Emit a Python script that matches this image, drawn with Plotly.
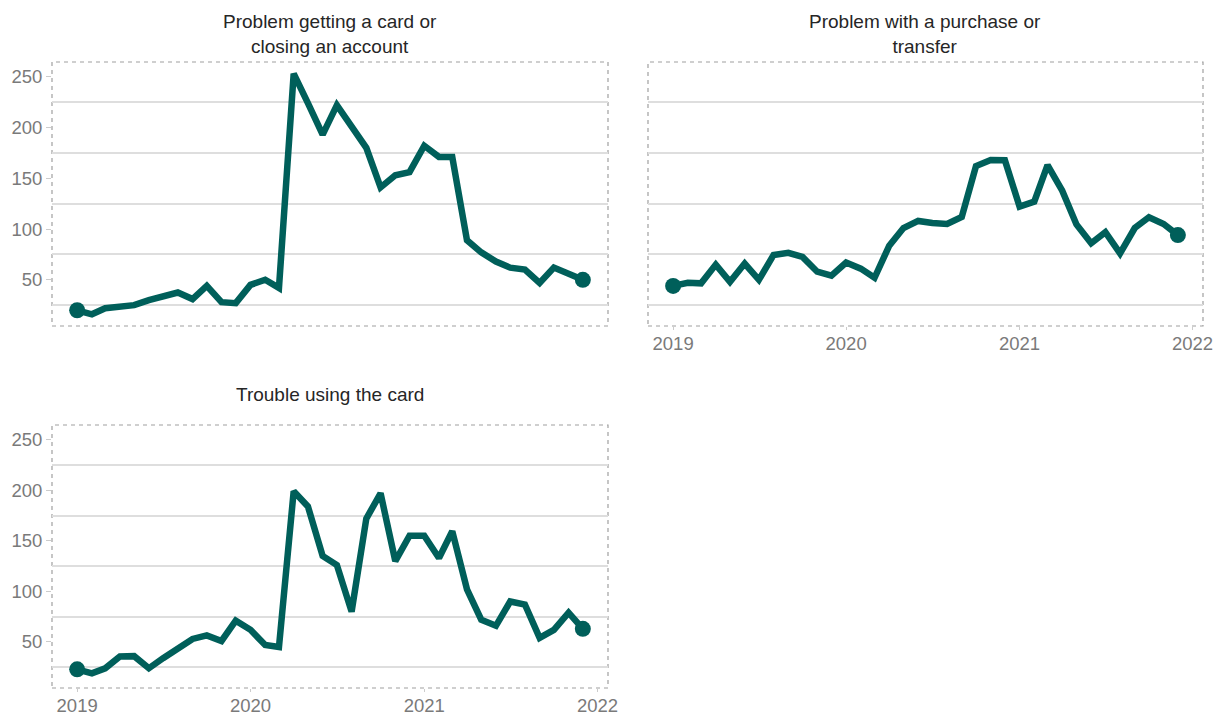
import plotly.graph_objects as go
import pandas as pd

dates = pd.date_range("2019-01-01", "2021-12-01", freq="MS")

titles = [
    "Problem getting a card or<br>closing an account",
    "Problem with a purchase or<br>transfer",
    "Trouble using the card",
]

getting_card = [20, 16, 22, 24, 25, 30, 33, 37.5, 31, 44, 28, 27,
                45, 50, 42, 253, 224, 193, 222, 201, 180, 141, 153, 156,
                182, 171, 171, 89, 77, 68, 62, 60, 47, 62, 56, 50]
purchase_transfer = [44, 47, 46.5, 65, 48, 66, 50, 74.5, 76.5, 72.5, 58, 54,
                     67, 61, 52, 83.6, 101, 108, 106, 105, 112, 162, 168, 167.7,
                     122, 127, 163, 137.7, 104.5, 86, 97, 76, 101, 111.6, 105, 94]
using_card = [23, 19, 24, 35.6, 36, 24, 34, 44, 53, 56.5, 51, 71,
              62, 47, 45, 199, 184, 135, 126, 80, 172, 197, 130, 155,
              155, 133, 159.5, 102, 72, 66, 90, 87, 54, 62, 79, 63]

series = [getting_card, purchase_transfer, using_card]

y_ticks = [50, 100, 150, 200, 250]
y_grid = [25, 75, 125, 175, 225]
x_tickvals = ["2019-01-01", "2020-01-01", "2021-01-01", "2022-01-01"]
x_ticktext = ["2019", "2020", "2021", "2022"]
x_range = ["2018-11-09", "2022-01-23"]
y_range = [4.5, 264.5]

LINE = "#005f5a"
GRAY = "#7a7a7a"
FONT = "Liberation Sans"

W, H = 1217, 715
panels = [
    dict(x0=52, x1=608, y0=62, y1=326, title_y=33.5, xlabels=False, ylabels=True),
    dict(x0=648, x1=1203, y0=62, y1=326, title_y=33.5, xlabels=True, ylabels=False),
    dict(x0=52, x1=608, y0=425, y1=688, title_y=395, xlabels=True, ylabels=True),
]

fig = go.Figure()
layout = dict(
    width=W, height=H,
    margin=dict(l=0, r=0, t=0, b=0),
    paper_bgcolor="white", plot_bgcolor="white",
    showlegend=False,
    font=dict(family=FONT, size=18, color=GRAY),
)
shapes = []
annotations = []

for i, (p, vals, title) in enumerate(zip(panels, series, titles)):
    n = i + 1
    xa = "x" if n == 1 else f"x{n}"
    ya = "y" if n == 1 else f"y{n}"
    fig.add_trace(go.Scatter(x=dates, y=vals, mode="lines",
                             line=dict(color=LINE, width=6.5),
                             xaxis=xa, yaxis=ya, hoverinfo="skip"))
    fig.add_trace(go.Scatter(x=[dates[0], dates[-1]], y=[vals[0], vals[-1]],
                             mode="markers",
                             marker=dict(color=LINE, size=16),
                             xaxis=xa, yaxis=ya, hoverinfo="skip"))
    xdom = [p["x0"] / W, p["x1"] / W]
    ydom = [1 - p["y1"] / H, 1 - p["y0"] / H]
    xkey = "xaxis" if n == 1 else f"xaxis{n}"
    ykey = "yaxis" if n == 1 else f"yaxis{n}"
    layout[xkey] = dict(
        domain=xdom, anchor=ya, type="date", range=x_range,
        tickmode="array", tickvals=x_tickvals, ticktext=x_ticktext,
        showticklabels=p["xlabels"],
        ticks="outside" if p["xlabels"] else "",
        ticklen=3, tickcolor="#cccccc", tickwidth=1,
        ticklabelstandoff=-2,
        showgrid=False, zeroline=False, showline=False,
        tickfont=dict(family=FONT, size=18.5, color=GRAY),
        automargin=False, fixedrange=True,
    )
    layout[ykey] = dict(
        domain=ydom, anchor=xa, range=y_range,
        tickmode="array", tickvals=y_ticks,
        showticklabels=p["ylabels"],
        ticks="outside" if p["ylabels"] else "",
        ticklen=5, tickcolor="#cccccc", tickwidth=1,
        showgrid=False, zeroline=False, showline=False,
        minor=dict(tickmode="array", tickvals=y_grid, showgrid=True,
                   gridcolor="#dedede", gridwidth=1.5, ticks=""),
        tickfont=dict(family=FONT, size=18.5, color=GRAY),
        automargin=False, fixedrange=True,
    )
    shapes.append(dict(type="rect", xref=f"{xa} domain", yref=f"{ya} domain",
                       x0=0, x1=1, y0=0, y1=1,
                       line=dict(color="#a0a0a0", width=1.2, dash="4px,4px"),
                       layer="below"))
    annotations.append(dict(text=title, xref="paper", yref="paper",
                            x=(xdom[0] + xdom[1]) / 2, y=1 - p["title_y"] / H,
                            xanchor="center", yanchor="middle",
                            showarrow=False,
                            font=dict(family=FONT, size=19, color="#262626")))

layout["shapes"] = shapes
layout["annotations"] = annotations
fig.update_layout(**layout)
fig.write_html("out.html",
               config={"displayModeBar": False},
               post_script="document.body.style.margin='0';document.body.style.overflow='hidden';")
